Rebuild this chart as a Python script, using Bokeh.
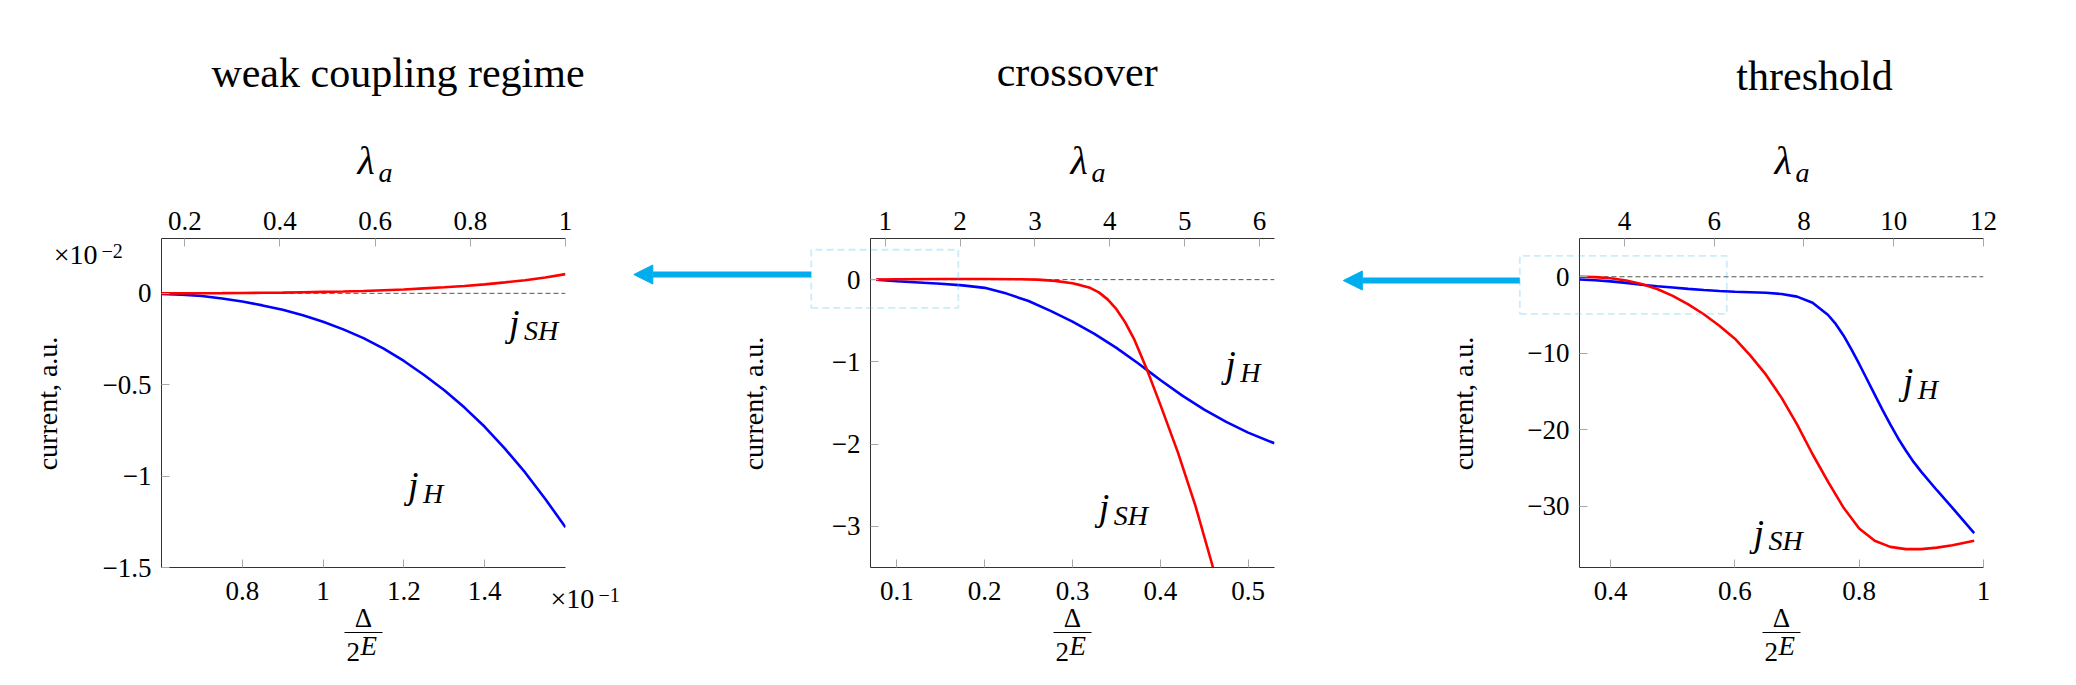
from bokeh.embed import file_html
from bokeh.models import (Arrow, FixedTicker, GridBox, Label, LinearAxis,
                          NormalHead, PolyAnnotation, Range1d, Span)
from bokeh.plotting import figure
from bokeh.resources import INLINE

SERIF = "Liberation Serif"
DESCENT = 0.216          # descent of the serif face, in em
RED, BLUE = "#ff0000", "#0000ff"
CYAN, CYAN_LIGHT = "#00aeef", "#4fc4f0"

# ---------------- weak coupling regime ----------------
# x = Delta/2E in units of 1e-1, currents in units of 1e-2
weak_x = [0.6, 0.65, 0.7, 0.75, 0.8, 0.85, 0.9, 0.95, 1.0, 1.05, 1.1,
          1.15, 1.2, 1.25, 1.3, 1.35, 1.4, 1.45, 1.5, 1.55, 1.6]
weak_jH = [-0.003, -0.007, -0.015, -0.028, -0.045, -0.066, -0.09, -0.12,
           -0.155, -0.197, -0.245, -0.303, -0.37, -0.447, -0.53, -0.625,
           -0.73, -0.85, -0.98, -1.125, -1.28]
weak_jSH = [0.0, 0.0, 0.0005, 0.001, 0.002, 0.003, 0.004, 0.006, 0.008,
            0.010, 0.013, 0.017, 0.021, 0.027, 0.033, 0.040, 0.049, 0.060,
            0.072, 0.087, 0.105]
weak_x_ticks = [0.8, 1.0, 1.2, 1.4]
weak_x_labels = ["0.8", "1", "1.2", "1.4"]
weak_lam_ticks = [0.2, 0.4, 0.6, 0.8, 1.0]
weak_lam_labels = ["0.2", "0.4", "0.6", "0.8", "1"]
weak_y_ticks = [0.0, -0.5, -1.0, -1.5]
weak_y_labels = ["0", "\u22120.5", "\u22121", "\u22121.5"]

# ---------------- crossover ----------------
cross_x_H = [0.0766, 0.1, 0.15, 0.175, 0.2, 0.225, 0.25, 0.275, 0.3, 0.325,
             0.35, 0.375, 0.385, 0.4, 0.425, 0.45, 0.475, 0.5, 0.53]
cross_jH = [0.0, -0.02, -0.05, -0.07, -0.1, -0.17, -0.26, -0.38, -0.51,
            -0.66, -0.83, -1.02, -1.1, -1.22, -1.41, -1.58, -1.73, -1.86, -1.99]
cross_x_SH = [0.0766, 0.1, 0.15, 0.2, 0.24, 0.26, 0.28, 0.3, 0.31, 0.32,
              0.33, 0.34, 0.35, 0.36, 0.37, 0.385, 0.4, 0.42, 0.44, 0.46, 0.47]
cross_jSH = [0.0, 0.004, 0.008, 0.008, 0.004, 0.0, -0.015, -0.045, -0.07,
             -0.1, -0.155, -0.24, -0.36, -0.52, -0.72, -1.1, -1.52, -2.1,
             -2.75, -3.5, -3.9]
cross_x_ticks = [0.1, 0.2, 0.3, 0.4, 0.5]
cross_x_labels = ["0.1", "0.2", "0.3", "0.4", "0.5"]
cross_lam_ticks = [1, 2, 3, 4, 5, 6]
cross_lam_labels = ["1", "2", "3", "4", "5", "6"]
cross_y_ticks = [0, -1, -2, -3]
cross_y_labels = ["0", "\u22121", "\u22122", "\u22123"]

# ---------------- threshold ----------------
thr_x_H = [0.35, 0.375, 0.4, 0.425, 0.45, 0.475, 0.5, 0.525, 0.55, 0.575,
           0.6, 0.625, 0.65, 0.675, 0.7, 0.725, 0.75, 0.7625, 0.775, 0.7875,
           0.8, 0.8125, 0.825, 0.8375, 0.85, 0.8625, 0.875, 0.8875, 0.9,
           0.925, 0.95, 0.985]
thr_jH = [-0.35, -0.45, -0.6, -0.8, -1.05, -1.25, -1.4, -1.58, -1.74, -1.86,
          -1.96, -2.03, -2.1, -2.25, -2.6, -3.4, -5.0, -6.2, -7.7, -9.5,
          -11.4, -13.4, -15.4, -17.4, -19.3, -21.1, -22.7, -24.2, -25.5,
          -27.9, -30.2, -33.5]
thr_x_SH = [0.35, 0.375, 0.4, 0.425, 0.45, 0.475, 0.5, 0.525, 0.55, 0.575,
            0.6, 0.625, 0.65, 0.675, 0.7, 0.725, 0.75, 0.775, 0.8, 0.825,
            0.85, 0.875, 0.9, 0.925, 0.95, 0.985]
thr_jSH = [0.0, -0.05, -0.2, -0.5, -0.95, -1.6, -2.5, -3.6, -4.9, -6.4,
           -8.1, -10.3, -12.8, -15.8, -19.3, -23.2, -26.8, -30.2, -32.9,
           -34.5, -35.3, -35.6, -35.6, -35.4, -35.1, -34.5]
thr_x_ticks = [0.4, 0.6, 0.8, 1.0]
thr_x_labels = ["0.4", "0.6", "0.8", "1"]
thr_lam_ticks = [4, 6, 8, 10, 12]
thr_lam_labels = ["4", "6", "8", "10", "12"]
thr_y_ticks = [0, -10, -20, -30]
thr_y_labels = ["0", "\u221210", "\u221220", "\u221230"]

# ---------------- page geometry ----------------
PAGE_W, PAGE_H = 2076, 685
FRAME_W, FRAME_H = 404, 329
FRAME_TOP = 238
FRAME_BOTTOM = FRAME_TOP + FRAME_H

panels = [
    dict(title="weak coupling regime", title_cx=397.5, title_base=86.5,
         x=weak_x, x_sh=weak_x, jH=weak_jH, jSH=weak_jSH,
         xr=(0.6, 1.6), yr=(-1.5, 0.3), lr=(0.151, 1.0),
         xt=(weak_x_ticks, weak_x_labels), lt=(weak_lam_ticks, weak_lam_labels),
         yt=(weak_y_ticks, weak_y_labels),
         canvas_left=0, frame_left=161, canvas_w=628,
         lam_left=357, ylab_cx=47,
         jH_pos=(1.21, -1.12), jSH_pos=(1.46, -0.23),
         box=None, arrow=None),
    dict(title="crossover", title_cx=1076.7, title_base=85,
         x=cross_x_H, x_sh=cross_x_SH, jH=cross_jH, jSH=cross_jSH,
         xr=(0.07, 0.53), yr=(-3.5, 0.5), lr=(0.804, 6.2),
         xt=(cross_x_ticks, cross_x_labels), lt=(cross_lam_ticks, cross_lam_labels),
         yt=(cross_y_ticks, cross_y_labels),
         canvas_left=628, frame_left=870, canvas_w=702,
         lam_left=1070, ylab_cx=753,
         jH_pos=(0.474, -1.18), jSH_pos=(0.33, -2.92),
         box=(0.0025, 0.170, -0.343, 0.363), arrow=(-0.1995, 0.062)),
    dict(title="threshold", title_cx=1814, title_base=89,
         x=thr_x_H, x_sh=thr_x_SH, jH=thr_jH, jSH=thr_jSH,
         xr=(0.35, 1.0), yr=(-38.0, 5.0), lr=(3.0, 12.0),
         xt=(thr_x_ticks, thr_x_labels), lt=(thr_lam_ticks, thr_lam_labels),
         yt=(thr_y_ticks, thr_y_labels),
         canvas_left=1330, frame_left=1579, canvas_w=746,
         lam_left=1774, ylab_cx=1463,
         jH_pos=(0.87, -15.3), jSH_pos=(0.63, -35.1),
         box=(0.254, 0.587, -4.84, 2.74), arrow=(-0.030, -0.49)),
]


def style_axis(ax, ticks, labels, standoff):
    ax.ticker = FixedTicker(ticks=ticks)
    ax.major_label_overrides = {t: s for t, s in zip(ticks, labels)}
    ax.major_tick_in = 8
    ax.major_tick_out = 0
    ax.minor_tick_in = 0
    ax.minor_tick_out = 0
    ax.major_tick_line_color = "#a8a8a8"
    ax.major_tick_line_width = 1
    ax.axis_line_color = "#333333"
    ax.axis_line_width = 1
    ax.major_label_text_font = SERIF
    ax.major_label_text_font_size = "27px"
    ax.major_label_text_color = "black"
    ax.major_label_standoff = standoff


def to_page(cfg, x, y):
    """Map a panel's data coordinates onto page pixels."""
    x0, x1 = cfg["xr"]
    y0, y1 = cfg["yr"]
    px = cfg["frame_left"] + (x - x0) / (x1 - x0) * FRAME_W
    py = FRAME_TOP + (y1 - y) / (y1 - y0) * FRAME_H
    return px, py


def text(p, x, base, s, size, italic=False, align="left"):
    """Text whose baseline sits at page row `base`."""
    p.add_layout(Label(x=x, y=base + DESCENT * size, text=s, text_font=SERIF,
                       text_font_size=f"{size}px",
                       text_font_style="italic" if italic else "normal",
                       text_align=align, text_baseline="bottom",
                       text_color="black"))


def build(cfg):
    fl = cfg["frame_left"]
    p = figure(frame_width=FRAME_W, frame_height=FRAME_H,
               x_range=Range1d(*cfg["xr"]), y_range=Range1d(*cfg["yr"]),
               output_backend="svg", toolbar_location=None,
               min_border_left=fl - cfg["canvas_left"],
               min_border_right=cfg["canvas_w"] - (fl - cfg["canvas_left"]) - FRAME_W,
               min_border_top=FRAME_TOP, min_border_bottom=PAGE_H - FRAME_BOTTOM)
    p.frame_align = False
    p.outline_line_color = None
    p.background_fill_color = "white"
    p.border_fill_color = "white"
    p.xgrid.visible = False
    p.ygrid.visible = False

    p.extra_x_ranges = {"lam": Range1d(*cfg["lr"])}
    top = LinearAxis(x_range_name="lam")
    p.add_layout(top, "above")

    style_axis(p.below[0], *cfg["xt"], standoff=14)
    style_axis(top, *cfg["lt"], standoff=9)
    style_axis(p.left[0], *cfg["yt"], standoff=10)

    # zero reference line under the curves
    p.add_layout(Span(location=0, dimension="width", line_color="#555555",
                      line_width=1, line_dash="5 3", level="underlay"))

    p.line(cfg["x"], cfg["jH"], line_color=BLUE, line_width=2.6)
    p.line(cfg["x_sh"], cfg["jSH"], line_color=RED, line_width=2.6)

    # curve names: j with an italic subscript
    for (x, y), sub in ((cfg["jH_pos"], "H"), (cfg["jSH_pos"], "SH")):
        p.add_layout(Label(x=x, y=y, y_offset=-DESCENT * 38, text="j",
                           text_font=SERIF, text_font_size="38px",
                           text_font_style="italic", text_baseline="bottom",
                           text_color="black"))
        p.add_layout(Label(x=x, y=y, x_offset=15, y_offset=-5 - DESCENT * 28,
                           text=sub, text_font=SERIF, text_font_size="28px",
                           text_font_style="italic", text_baseline="bottom",
                           text_color="black"))
    return p


figs = [build(c) for c in panels]

# transparent page-sized overlay carrying titles, axis names, zoom boxes
# and arrows, which sit outside the individual plot frames
ov = figure(width=PAGE_W, height=PAGE_H, x_range=Range1d(0, PAGE_W),
            y_range=Range1d(PAGE_H, 0), output_backend="svg",
            toolbar_location=None, min_border=0, x_axis_type=None,
            y_axis_type=None)
ov.frame_align = False
ov.xgrid.visible = False
ov.ygrid.visible = False
ov.outline_line_color = None
ov.background_fill_alpha = 0
ov.border_fill_alpha = 0

for cfg in panels:
    fl = cfg["frame_left"]
    cx = fl + FRAME_W / 2
    text(ov, cfg["title_cx"], cfg["title_base"], cfg["title"], 42, align="center")
    # top axis name: lambda_a
    text(ov, cfg["lam_left"], 173.5, "\u03bb", 40, italic=True)
    text(ov, cfg["lam_left"] + 21, 181.5, "a", 28, italic=True)
    # bottom axis name: Delta / 2E
    text(ov, cx, 627, "\u0394", 27, align="center")
    ov.add_layout(Arrow(x_start=cx - 19, y_start=632, x_end=cx + 19, y_end=632,
                        start=None, end=None, line_color="black", line_width=1))
    text(ov, cx - 17, 655, "2", 27)
    text(ov, cx - 3, 655, "E", 27, italic=True)
    # left axis name
    ov.add_layout(Label(x=cfg["ylab_cx"], y=403, text="current, a.u.",
                        text_font=SERIF, text_font_size="28px",
                        text_align="center", text_baseline="middle",
                        text_color="black", angle=90, angle_units="deg"))

    if cfg["box"] is not None:
        x0, x1, y0, y1 = cfg["box"]
        (bx0, by0), (bx1, by1) = to_page(cfg, x0, y0), to_page(cfg, x1, y1)
        ov.add_layout(PolyAnnotation(xs=[bx0, bx1, bx1, bx0],
                                     ys=[by0, by0, by1, by1], fill_alpha=0,
                                     line_color=CYAN_LIGHT, line_width=1.8,
                                     line_dash="7 4"))
        xe, ya = cfg["arrow"]
        ax0, ay = to_page(cfg, x0, ya)
        ax1, _ = to_page(cfg, xe, ya)
        ov.add_layout(Arrow(x_start=ax0, y_start=ay, x_end=ax1, y_end=ay,
                            line_color=CYAN, line_width=6,
                            end=NormalHead(size=19, fill_color=CYAN,
                                           line_color=CYAN, line_width=1)))

# power-of-ten multipliers of the first panel
text(ov, 53.3, 263, "\u00d710", 28)
text(ov, 101, 253, "\u22122", 20)
text(ov, 550, 607, "\u00d710", 28)
text(ov, 598, 597, "\u22121", 20)

layout = GridBox(children=[(figs[0], 0, 0), (figs[1], 0, 1), (figs[2], 0, 2),
                           (ov, 0, 0, 1, 3)], spacing=0)
open("out.html", "w").write(file_html(layout, INLINE))
